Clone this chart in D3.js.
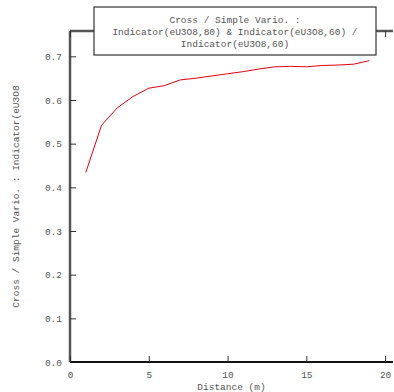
<!DOCTYPE html>
<html>
<head>
    <script src="https://d3js.org/d3.v7.min.js"></script>
    <style>
        body { margin: 0; background: #fff; }
        text { font-family: "Liberation Mono", "DejaVu Sans Mono", monospace; fill: #555; }
    </style>
</head>
<body>
    <svg id="chart"></svg>
    <script>
        // lag distances and cross / simple variogram ratio
        const distances = [1, 2, 3, 4, 5, 6, 7, 8, 9, 10, 11, 12, 13, 14, 15, 16, 17, 18, 19];
        const ratio = [0.434, 0.542, 0.582, 0.608, 0.627, 0.633, 0.646, 0.650, 0.655, 0.660,
                       0.665, 0.671, 0.676, 0.677, 0.676, 0.679, 0.680, 0.682, 0.690];
        const xTicks = [0, 5, 10, 15, 20];
        const yTicks = [0, 0.1, 0.2, 0.3, 0.4, 0.5, 0.6, 0.7];
        const titleLines = ["Cross / Simple Vario. :",
                            "Indicator(eU3O8,80) & Indicator(eU3O8,60) /",
                            "Indicator(eU3O8,60)"];
        const yLabel = "Cross / Simple Vario. : Indicator(eU3O8";
        const xLabel = "Distance (m)";

        const svgWidth = 394;
        const svgHeight = 392;
        const margin = { top: 31, right: 1, bottom: 30, left: 70 };
        const width = svgWidth - margin.left - margin.right;
        const height = svgHeight - margin.top - margin.bottom;

        const svg = d3.select("#chart")
            .attr("width", svgWidth)
            .attr("height", svgHeight)
            .append("g")
            .attr("transform", `translate(${margin.left}, ${margin.top})`);

        const xScale = d3.scaleLinear().domain([0, 20.5]).range([0, width]);
        const yScale = d3.scaleLinear().domain([0, 0.758]).range([height, 0]);

        // left axis
        const yAxis = svg.append("g")
            .call(d3.axisRight(yScale).tickValues(yTicks).tickSize(6).tickFormat(d3.format(".1f")));
        yAxis.select(".domain").attr("stroke", "#555").attr("stroke-width", 2.5)
            .attr("d", `M0,${height}V0`);
        yAxis.selectAll(".tick line").attr("stroke", "#333");
        yAxis.selectAll(".tick text").attr("x", -8).style("text-anchor", "end")
            .style("font-size", "9.5px").attr("fill", "#555");

        // bottom axis
        const xAxis = svg.append("g")
            .attr("transform", `translate(0, ${height})`)
            .call(d3.axisTop(xScale).tickValues(xTicks).tickSize(6));
        xAxis.select(".domain").attr("stroke", "#111").attr("stroke-width", 2)
            .attr("d", `M0,0H${width}`);
        xAxis.selectAll(".tick line").attr("stroke", "#333");
        xAxis.selectAll(".tick text").attr("y", 9).attr("dy", "0.71em")
            .style("font-size", "9.5px").attr("fill", "#555");

        // top axis
        const topAxis = svg.append("g")
            .call(d3.axisBottom(xScale).tickValues(xTicks).tickSize(6).tickFormat(""));
        topAxis.select(".domain").attr("stroke", "#555").attr("stroke-width", 2.5)
            .attr("d", `M0,0H${width}`);
        topAxis.selectAll(".tick line").attr("stroke", "#333");

        // curve
        const line = d3.line()
            .x((d, i) => xScale(distances[i]))
            .y(d => yScale(d));

        svg.append("path")
            .datum(ratio)
            .attr("fill", "none")
            .attr("stroke", "#e8000b")
            .attr("stroke-width", 1)
            .attr("d", line);

        // title box
        const box = d3.select("#chart").append("g");
        box.append("rect")
            .attr("x", 94).attr("y", 7)
            .attr("width", 282).attr("height", 48)
            .attr("fill", "#fff")
            .attr("stroke", "#333")
            .attr("stroke-width", 1.2);
        box.selectAll("text.title")
            .data(titleLines)
            .join("text")
            .attr("class", "title")
            .attr("x", 235)
            .attr("y", (d, i) => 19.5 + i * 12)
            .attr("dy", "0.35em")
            .style("text-anchor", "middle")
            .style("font-size", "9.5px")
            .text(d => d);

        // axis titles
        svg.append("text")
            .attr("x", width / 2)
            .attr("y", height + 25)
            .attr("dy", "0.35em")
            .style("text-anchor", "middle")
            .style("font-size", "9.5px")
            .text(xLabel);

        svg.append("text")
            .attr("transform", "rotate(-90)")
            .attr("x", -height / 2)
            .attr("y", -54)
            .attr("dy", "0.35em")
            .style("text-anchor", "middle")
            .style("font-size", "9.5px")
            .text(yLabel);
    </script>
</body>
</html>
